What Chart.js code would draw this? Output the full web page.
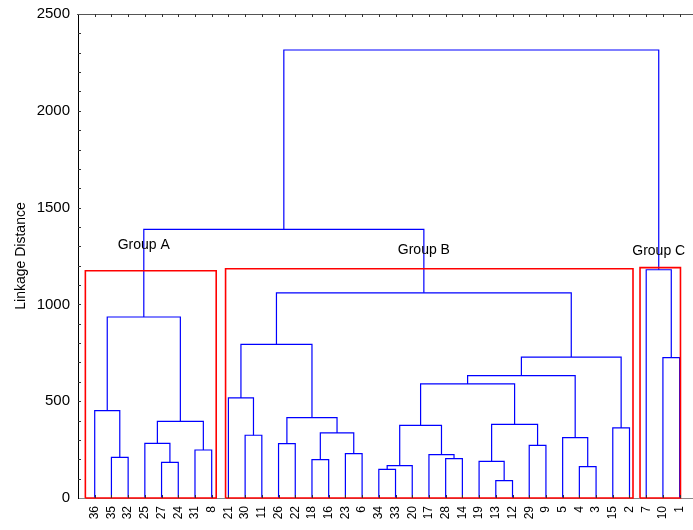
<!DOCTYPE html>
<html>
<head>
<meta charset="utf-8">
<script src="https://cdn.jsdelivr.net/npm/chart.js@4/dist/chart.umd.min.js"></script>
<style>
  html, body { margin: 0; padding: 0; background: #fff; }
  #wrap { width: 693px; height: 530px; }
</style>
</head>
<body>
<div id="wrap"><canvas id="dendro"></canvas></div>
<script>
// leaf order along the x axis
const leafLabels = ['36','35','32','25','27','24','31','8','21','30','11','26','22','18','16','23','6',
                    '34','33','20','17','28','14','19','13','12','29','9','5','4','3','15','2','7','10','1'];

// linkage steps: ids 0-35 are the leaves in plotted order, merge k creates id 36 + k
const mergeLeft   = [1, 0, 4, 3, 6, 39, 37, 9, 8, 11, 13, 15, 46, 45, 44, 17, 51, 21, 20, 52, 24, 23, 26, 57, 55, 29, 28, 60, 31, 63, 50, 34, 33, 42, 69];
const mergeRight  = [2, 36, 5, 38, 7, 40, 41, 10, 43, 12, 14, 16, 47, 48, 49, 18, 19, 22, 53, 54, 25, 56, 27, 58, 59, 30, 61, 62, 32, 64, 65, 35, 67, 66, 68];
const mergeHeight = [210, 451, 184, 282, 248, 396, 935, 324, 517, 281, 198, 229, 336, 415, 794, 148, 167, 203, 224, 375, 90, 189, 272, 380, 589, 162, 312, 632, 362, 728, 1060, 725, 1179, 1388, 2314];

// groups (box extents in leaf units / linkage distance)
const groupNames    = ['Group A', 'Group B', 'Group C'];
const groupNode     = [42, 66, 68];
const groupBoxLeft  = [0.44, 8.83, 33.63];
const groupBoxRight = [8.27, 33.21, 36.05];
const groupBoxTop   = [1174, 1184, 1190];

// node coordinates
const nodeX = leafLabels.map((_, i) => i + 1);
const nodeY = leafLabels.map(() => 0);
mergeHeight.forEach((h, k) => {
  nodeX.push((nodeX[mergeLeft[k]] + nodeX[mergeRight[k]]) / 2);
  nodeY.push(h);
});

const datasets = [];
groupNames.forEach((name, g) => {
  datasets.push({
    label: name,
    data: [
      {x: groupBoxLeft[g], y: 0}, {x: groupBoxLeft[g], y: groupBoxTop[g]},
      {x: groupBoxRight[g], y: groupBoxTop[g]}, {x: groupBoxRight[g], y: 0},
      {x: groupBoxLeft[g], y: 0}
    ],
    borderColor: '#ff0000',
    borderWidth: 1.6,
    order: 0
  });
});
mergeHeight.forEach((h, k) => {
  const a = mergeLeft[k], b = mergeRight[k];
  datasets.push({
    label: 'link ' + k,
    data: [
      {x: nodeX[a], y: nodeY[a]}, {x: nodeX[a], y: h},
      {x: nodeX[b], y: h}, {x: nodeX[b], y: nodeY[b]}
    ],
    borderColor: '#0000ff',
    borderWidth: 1.2,
    order: 1
  });
});

// group captions and the inward tick marks of the frame
const dendroDecor = {
  id: 'dendroDecor',
  afterDraw(chart, args, opts) {
    const {ctx, chartArea: area, scales: {x, y}} = chart;
    ctx.save();
    ctx.fillStyle = '#000';
    ctx.font = '14px Arial, "Liberation Sans", sans-serif';
    ctx.textAlign = 'center';
    ctx.textBaseline = 'middle';
    groupNames.forEach((name, g) => {
      const px = x.getPixelForValue(nodeX[groupNode[g]]);
      const py = y.getPixelForValue(groupBoxTop[g]) - opts.labelLift[g];
      ctx.fillText(name, px, py);
    });

    ctx.lineWidth = 1;
    // top frame line
    ctx.strokeStyle = '#555';
    ctx.beginPath();
    ctx.moveTo(area.left - 1, area.top + 0.5);
    ctx.lineTo(area.right, area.top + 0.5);
    ctx.stroke();
    // leaf ticks top and bottom
    ctx.strokeStyle = '#333';
    ctx.beginPath();
    nodeX.slice(0, leafLabels.length).forEach(v => {
      const px = Math.round(x.getPixelForValue(v)) + 0.5;
      ctx.moveTo(px, area.top);
      ctx.lineTo(px, area.top + 3);
      ctx.moveTo(px, area.bottom);
      ctx.lineTo(px, area.bottom - 3);
    });
    // minor ticks on the distance axis
    for (let v = 100; v < 2500; v += 100) {
      const py = Math.round(y.getPixelForValue(v)) + 0.5;
      ctx.moveTo(area.left, py);
      ctx.lineTo(area.left + 3, py);
    }
    ctx.stroke();
    ctx.restore();
  }
};

new Chart(document.getElementById('dendro'), {
  type: 'scatter',
  data: {datasets},
  plugins: [dendroDecor],
  options: {
    responsive: true,
    maintainAspectRatio: false,
    animation: false,
    showLine: true,
    elements: {
      point: {radius: 0, hoverRadius: 0},
      line: {tension: 0, fill: false}
    },
    datasets: {scatter: {clip: false}},
    layout: {padding: {top: 14, right: 0, bottom: 0, left: 0}},
    plugins: {
      legend: {display: false},
      tooltip: {enabled: false},
      dendroDecor: {labelLift: [26, 19, 16]}
    },
    scales: {
      x: {
        type: 'linear',
        min: 0,
        max: 36.8,
        afterFit(scale) {
          scale.height = 32;
          scale.paddingLeft = 0;
          scale.paddingRight = 0;
        },
        border: {display: true, color: '#888', width: 1},
        grid: {display: true, drawOnChartArea: false, drawTicks: false},
        ticks: {
          stepSize: 1,
          autoSkip: false,
          includeBounds: false,
          minRotation: 90,
          maxRotation: 90,
          padding: 8,
          color: '#000',
          font: {family: 'Arial, "Liberation Sans", sans-serif', size: 12},
          callback: v => Number.isInteger(v) && v >= 1 && v <= leafLabels.length ? leafLabels[v - 1] : ''
        }
      },
      y: {
        min: 0,
        max: 2500,
        afterFit(scale) {
          scale.width = 78;
          scale.paddingTop = 0;
          scale.paddingBottom = 0;
        },
        border: {display: true, color: '#000', width: 1},
        grid: {display: true, drawOnChartArea: false, drawTicks: false},
        title: {
          display: true,
          text: 'Linkage Distance',
          color: '#000',
          font: {family: 'Arial, "Liberation Sans", sans-serif', size: 14},
          padding: {top: 13, bottom: 0}
        },
        ticks: {
          stepSize: 100,
          autoSkip: false,
          padding: 8,
          color: '#000',
          font: {family: 'Arial, "Liberation Sans", sans-serif', size: 15},
          callback: v => v % 500 === 0 ? String(v) : ''
        }
      }
    }
  }
});
</script>
</body>
</html>
